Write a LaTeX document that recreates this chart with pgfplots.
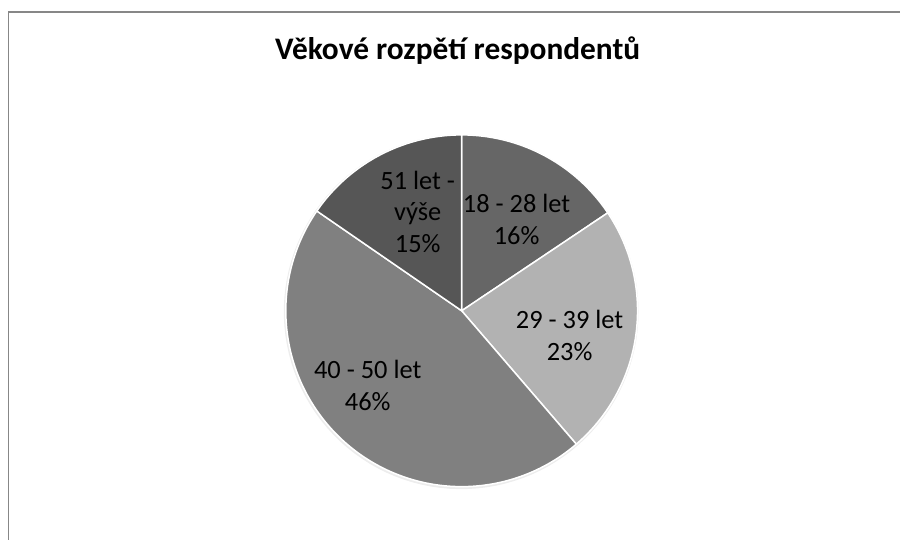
\documentclass[border=0pt]{standalone}
\usepackage{pgfplots}
\pgfplotsset{compat=1.18}
\usepackage{fontspec}
\setmainfont{Carlito}
\definecolor{gA}{RGB}{102,102,102}
\definecolor{gB}{RGB}{178,178,178}
\definecolor{gC}{RGB}{128,128,128}
\definecolor{gD}{RGB}{86,86,86}
\definecolor{frame}{RGB}{135,135,135}
% shares in percent
\def\pA{15.6}% 18 - 28 let
\def\pB{23.1}% 29 - 39 let
\def\pC{45.9}% 40 - 50 let
\def\pD{15.4}% 51 let - vyse
\pgfmathsetmacro\aA{90}
\pgfmathsetmacro\aB{\aA-3.6*\pA}
\pgfmathsetmacro\aC{\aB-3.6*\pB}
\pgfmathsetmacro\aD{\aC-3.6*\pC}
\pgfmathsetmacro\aE{\aD-3.6*\pD}
\begin{document}
\begin{tikzpicture}
\begin{axis}[
  scale only axis, width=901bp, height=540bp,
  xmin=0, xmax=901, ymin=0, ymax=540,
  hide axis, clip=false,
]
\path (0,0) rectangle (901,540);
\draw[frame, line width=1.3bp] (8.5,0) -- (8.5,528) -- (901,528);
% soft shadow
\addplot[fill=black!7, draw=none, domain=0:360, samples=120, variable=\t] ({461.5+177.5*cos(\t)},{228+177.5*sin(\t)}) -- cycle;
\addplot[fill=gA, draw=white, line width=1.5bp, domain=\aB:\aA, samples=60, variable=\t] ({462+176*cos(\t)},{229+176*sin(\t)}) -- (462,229) -- cycle;
\addplot[fill=gB, draw=white, line width=1.5bp, domain=\aC:\aB, samples=80, variable=\t] ({462+176*cos(\t)},{229+176*sin(\t)}) -- (462,229) -- cycle;
\addplot[fill=gC, draw=white, line width=1.5bp, domain=\aD:\aC, samples=150, variable=\t] ({462+176*cos(\t)},{229+176*sin(\t)}) -- (462,229) -- cycle;
\addplot[fill=gD, draw=white, line width=1.5bp, domain=\aE:\aD, samples=60, variable=\t] ({462+176*cos(\t)},{229+176*sin(\t)}) -- (462,229) -- cycle;
\node[font=\bfseries\fontsize{31.5}{36}\selectfont, anchor=base] at (458,480) {Věkové rozpětí respondentů};
\begin{scope}[every node/.style={align=center, font=\fontsize{26.5}{32}\selectfont}]
\node at (517,320) {18 - 28 let\\16\%};
\node at (570,204) {29 - 39 let\\23\%};
\node at (368,154) {40 - 50 let\\46\%};
\node at (418,328) {51 let -\\výše\\15\%};
\end{scope}
\end{axis}
\end{tikzpicture}
\end{document}
